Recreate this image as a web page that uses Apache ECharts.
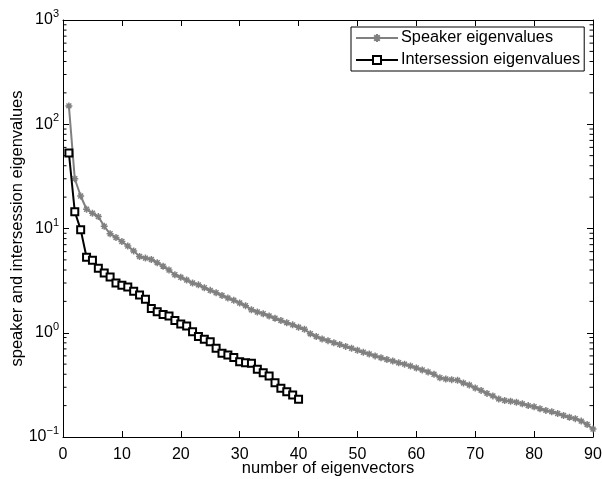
<!DOCTYPE html>
<html>
<head>
<meta charset="utf-8">
<script src="https://cdn.jsdelivr.net/npm/echarts@6/dist/echarts.min.js"></script>
<style>html,body{margin:0;padding:0;background:#fff;}#c{width:602px;height:479px;}</style>
</head>
<body>
<div id="c"></div>
<script>
var speakerX = [1,2,3,4,5,6,7,8,9,10,11,12,13,14,15,16,17,18,19,20,21,22,23,24,25,26,27,28,29,30,31,32,33,34,35,36,37,38,39,40,41,42,43,44,45,46,47,48,49,50,51,52,53,54,55,56,57,58,59,60,61,62,63,64,65,66,67,68,69,70,71,72,73,74,75,76,77,78,79,80,81,82,83,84,85,86,87,88,89,90];
var speakerValues = [150,30,20.5,15.3,14,13,10.5,8.9,8.2,7.5,6.8,6.1,5.4,5.2,5.05,4.7,4.35,4.0,3.6,3.4,3.2,3.0,2.88,2.7,2.55,2.42,2.28,2.15,2.05,1.93,1.82,1.66,1.58,1.52,1.45,1.38,1.31,1.25,1.19,1.13,1.08,0.98,0.92,0.87,0.84,0.80,0.77,0.74,0.71,0.68,0.65,0.625,0.60,0.575,0.555,0.535,0.515,0.50,0.48,0.46,0.44,0.42,0.40,0.37,0.36,0.355,0.35,0.33,0.315,0.295,0.28,0.262,0.248,0.232,0.224,0.22,0.215,0.208,0.2,0.195,0.187,0.18,0.175,0.168,0.161,0.155,0.15,0.142,0.132,0.119];
var interX = [1,2,3,4,5,6,7,8,9,10,11,12,13,14,15,16,17,18,19,20,21,22,23,24,25,26,27,28,29,30,31,32,33,34,35,36,37,38,39,40];
var interValues = [53,14.5,9.75,5.3,4.95,4.15,3.75,3.42,3.0,2.85,2.75,2.5,2.3,2.1,1.71,1.59,1.5,1.45,1.31,1.21,1.16,1.02,0.92,0.865,0.82,0.71,0.635,0.612,0.58,0.527,0.516,0.509,0.446,0.414,0.385,0.332,0.293,0.272,0.253,0.23];
var minorTickValues = [0.2,0.3,0.4,0.5,0.6,0.7,0.8,0.9,2,3,4,5,6,7,8,9,20,30,40,50,60,70,80,90,200,300,400,500,600,700,800,900];
var xTickLabels = ['0','10','20','30','40','50','60','70','80','90'];

var FONT = 'Liberation Sans, Arial, Helvetica, sans-serif';
function pairs(xs, ys){ return xs.map(function(x,i){ return [x, ys[i]]; }); }

var chart = echarts.init(document.getElementById('c'), null, {renderer:'canvas'});
var axisLine = {show:true, onZero:false, lineStyle:{color:'#000', width:1}};
var option = {
  animation:false,
  backgroundColor:'#fff',
  grid:{left:63, right:9, top:20, bottom:42, containLabel:false, outerBoundsMode:'none'},
  legend:{
    orient:'vertical', left:351, top:27,
    data:['Speaker eigenvalues','Intersession eigenvalues'],
    backgroundColor:'#fff', borderColor:'#000', borderWidth:1, borderRadius:0,
    padding:[3,4,3,4], itemWidth:42, itemHeight:10, itemGap:6,
    textStyle:{fontFamily:FONT, fontSize:16.3, color:'#000', padding:[0,0,0,-2]}
  },
  xAxis:[{
    type:'value', min:0, max:90, interval:10, position:'bottom',
    axisLine:axisLine, axisTick:{inside:true, length:6, lineStyle:{color:'#000'}},
    axisLabel:{color:'#000', fontSize:16, fontFamily:FONT, margin:10,
      formatter:function(v){ return xTickLabels[Math.round(v/10)]; }},
    splitLine:{show:false},
    name:'number of eigenvectors', nameLocation:'middle', nameGap:23, nameMoveOverlap:false,
    nameTextStyle:{color:'#000', fontSize:16.5, fontFamily:FONT}
  },{
    type:'value', min:0, max:90, interval:10, position:'top',
    axisLine:axisLine, axisTick:{inside:true, length:6, lineStyle:{color:'#000'}},
    axisLabel:{show:false}, splitLine:{show:false}
  }],
  yAxis:[{
    type:'log', logBase:10, min:0.1, max:1000, position:'left',
    axisLine:axisLine, axisTick:{inside:true, length:6, lineStyle:{color:'#000'}},
    splitLine:{show:false},
    axisLabel:{color:'#000', margin:4, fontFamily:FONT,
      formatter:function(v){
        var e = Math.round(Math.log(v)/Math.LN10);
        return '{b|10}{e|' + (e<0 ? '\u2212' + (-e) : e) + '}';
      },
      rich:{b:{fontSize:16, fontFamily:FONT, color:'#000'},
            e:{fontSize:11, fontFamily:FONT, color:'#000', padding:[0,0,12,0]}}
    },
    name:'speaker and intersession eigenvalues', nameLocation:'middle', nameGap:37, nameMoveOverlap:false,
    nameTextStyle:{color:'#000', fontSize:16.5, fontFamily:FONT}
  },{
    type:'log', logBase:10, min:0.1, max:1000, position:'right',
    axisLine:axisLine, axisTick:{inside:true, length:6, lineStyle:{color:'#000'}},
    axisLabel:{show:false}, splitLine:{show:false}
  }],
  series:[{
    name:'Speaker eigenvalues', type:'line', xAxisIndex:0, yAxisIndex:0,
    data:pairs(speakerX, speakerValues),
    lineStyle:{color:'#808080', width:2},
    symbol:'path://M0,5 L10,5 M5,0 L5,10 M1.5,1.5 L8.5,8.5 M8.5,1.5 L1.5,8.5',
    symbolSize:7, showAllSymbol:true,
    itemStyle:{color:'#808080', borderColor:'#808080', borderWidth:1.5},
    z:2
  },{
    name:'Intersession eigenvalues', type:'line', xAxisIndex:0, yAxisIndex:0,
    data:pairs(interX, interValues),
    lineStyle:{color:'#000', width:2},
    symbol:'rect', symbolSize:7, showAllSymbol:true,
    itemStyle:{color:'#fff', borderColor:'#000', borderWidth:2},
    z:3
  },{
    type:'custom', xAxisIndex:0, yAxisIndex:0, silent:true,
    data:minorTickValues.map(function(v){ return [0, v]; }),
    renderItem:function(params, api){
      var v = api.value(1);
      var pl = api.coord([0, v]);
      var pr = api.coord([90, v]);
      return {type:'group', children:[
        {type:'line', shape:{x1:pl[0], y1:pl[1], x2:pl[0]+3.5, y2:pl[1]}, style:{stroke:'#000', lineWidth:1}},
        {type:'line', shape:{x1:pr[0], y1:pr[1], x2:pr[0]-3.5, y2:pr[1]}, style:{stroke:'#000', lineWidth:1}}
      ]};
    },
    z:1
  }]
};
chart.setOption(option);
</script>
</body>
</html>
